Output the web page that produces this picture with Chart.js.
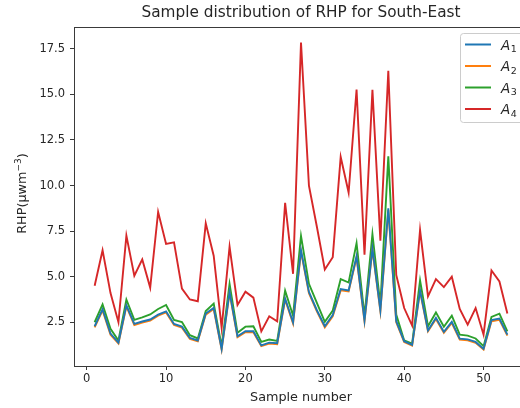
<!DOCTYPE html>
<html>
<head>
<meta charset="utf-8">
<script src="https://cdn.jsdelivr.net/npm/chart.js@4.4.1/dist/chart.umd.min.js"></script>
<style>
html,body{margin:0;padding:0;background:#fff;overflow:hidden;width:520px;height:408px;}
#wrap{position:absolute;left:0;top:0;width:540px;height:408px;}
</style>
</head>
<body>
<div id="wrap"><canvas id="c" width="540" height="408"></canvas></div>
<script>
const samples = [1,2,3,4,5,6,7,8,9,10,11,12,13,14,15,16,17,18,19,20,21,22,23,24,25,26,27,28,29,30,31,32,33,34,35,36,37,38,39,40,41,42,43,44,45,46,47,48,49,50,51,52,53];
const A1 = [2.28,3.21,1.88,1.38,3.43,2.41,2.54,2.65,2.92,3.10,2.41,2.26,1.64,1.50,2.98,3.29,1.04,4.17,1.73,2.01,2.01,1.23,1.38,1.35,3.80,2.49,6.45,4.16,3.16,2.28,2.89,4.32,4.25,6.12,2.61,6.55,3.16,8.75,2.56,1.46,1.26,4.25,2.05,2.74,1.97,2.52,1.60,1.56,1.42,1.04,2.62,2.70,1.82];
const A2 = [2.22,3.15,1.82,1.33,3.37,2.35,2.48,2.59,2.86,3.04,2.35,2.20,1.59,1.46,2.92,3.23,1.00,4.10,1.68,1.95,1.95,1.19,1.33,1.30,3.74,2.43,6.38,4.10,3.10,2.22,2.83,4.25,4.19,6.05,2.55,6.48,3.10,8.66,2.50,1.42,1.22,4.19,2.00,2.68,1.92,2.46,1.55,1.51,1.37,1.00,2.55,2.64,1.77];
const A3 = [2.50,3.48,2.14,1.50,3.74,2.63,2.77,2.93,3.23,3.45,2.63,2.51,1.79,1.61,3.12,3.52,1.19,4.61,1.92,2.26,2.28,1.42,1.55,1.48,4.23,2.86,7.24,4.61,3.56,2.52,3.14,4.87,4.68,6.84,2.85,7.33,3.46,11.60,2.92,1.50,1.33,4.79,2.28,3.04,2.25,2.86,1.82,1.77,1.61,1.19,2.79,2.97,2.00];
const A4 = [4.50,6.45,4.10,2.50,7.25,5.05,5.95,4.40,8.55,6.80,6.88,4.35,3.75,3.65,7.93,6.15,2.20,6.65,3.45,4.18,3.85,2.00,2.83,2.55,9.05,5.16,17.85,10.00,7.74,5.40,6.07,11.57,9.62,15.27,6.20,15.25,6.98,16.30,5.10,3.28,2.32,7.56,3.92,4.87,4.43,5.00,3.23,2.37,3.28,1.82,5.34,4.74,2.98];
const xTicks = [0,10,20,30,40,50];
const yTicks = [2.5,5.0,7.5,10.0,12.5,15.0,17.5];
const seriesNames = ['1','2','3','4'];
const colors = ['#1f77b4','#ff7f0e','#2ca02c','#d62728'];
const titleText = 'Sample distribution of RHP for South-East';
const xTitle = 'Sample number';
const yTitleMain = 'RHP(\u03bcwm';
const yTitleSup = '\u22123';
const yTitleEnd = ')';

const TXT = '#262626';
const SPINE = '#3a3a3a';
const FONT = 'DejaVu Sans';

const mk = (arr, i) => ({
  label: 'A' + seriesNames[i],
  data: arr.map((v, k) => ({x: samples[k], y: v})),
  borderColor: colors[i],
  backgroundColor: colors[i],
  borderWidth: 1.9,
  pointRadius: 0,
  tension: 0,
  fill: false
});

const deco = {
  id: 'deco',
  afterDraw(chart) {
    const ctx = chart.ctx, a = chart.chartArea;
    ctx.save();
    ctx.strokeStyle = SPINE; ctx.lineWidth = 1;
    ctx.beginPath();
    ctx.moveTo(a.left, a.top + 0.5); ctx.lineTo(a.right, a.top + 0.5);
    ctx.moveTo(a.right - 0.5, a.top); ctx.lineTo(a.right - 0.5, a.bottom);
    ctx.stroke();
    // title
    ctx.fillStyle = TXT;
    ctx.font = '15.3px "' + FONT + '"';
    ctx.textAlign = 'center'; ctx.textBaseline = 'middle';
    ctx.fillText(titleText, (a.left + a.right) / 2, 13.5);
    // x title
    ctx.font = '12.8px "' + FONT + '"';
    ctx.fillText(xTitle, (a.left + a.right) / 2, 398);
    // y title with superscript
    ctx.save();
    ctx.translate(26, (a.top + a.bottom) / 2 - 3);
    ctx.rotate(-Math.PI / 2);
    ctx.textBaseline = 'alphabetic'; ctx.textAlign = 'left';
    const fMain = '12.8px "' + FONT + '"', fSup = '9px "' + FONT + '"';
    ctx.font = fMain; const w1 = ctx.measureText(yTitleMain).width; const w3 = ctx.measureText(yTitleEnd).width;
    ctx.font = fSup; const w2 = ctx.measureText(yTitleSup).width;
    let x0 = -(w1 + w2 + w3) / 2;
    ctx.font = fMain; ctx.fillText(yTitleMain, x0, 0);
    ctx.font = fSup; ctx.fillText(yTitleSup, x0 + w1, -5.5);
    ctx.font = fMain; ctx.fillText(yTitleEnd, x0 + w1 + w2, 0);
    ctx.restore();
    // legend
    const lx = 460.5, ly = 33.5, lw = 70, lh = 89;
    ctx.fillStyle = 'rgba(255,255,255,0.8)';
    ctx.strokeStyle = '#cccccc'; ctx.lineWidth = 1;
    ctx.beginPath();
    if (ctx.roundRect) ctx.roundRect(lx, ly, lw, lh, 3); else ctx.rect(lx, ly, lw, lh);
    ctx.fill(); ctx.stroke();
    const rowY = [44.5, 66, 87.5, 109];
    chart.data.datasets.forEach((ds, i) => {
      const y = rowY[i];
      ctx.strokeStyle = ds.borderColor; ctx.lineWidth = 2;
      ctx.beginPath(); ctx.moveTo(465, y); ctx.lineTo(491, y); ctx.stroke();
      ctx.fillStyle = TXT;
      ctx.textAlign = 'left'; ctx.textBaseline = 'alphabetic';
      ctx.font = 'italic 13.5px "' + FONT + '"';
      ctx.fillText('A', 501, y + 5);
      const w = ctx.measureText('A').width;
      ctx.font = '9.5px "' + FONT + '"';
      ctx.fillText(seriesNames[i], 501 + w + 0.5, y + 7.5);
    });
    ctx.restore();
  }
};

new Chart(document.getElementById('c'), {
  type: 'line',
  data: { datasets: [mk(A1,0), mk(A2,1), mk(A3,2), mk(A4,3)] },
  options: {
    responsive: false,
    animation: false,
    devicePixelRatio: 1,
    layout: { padding: { left: 0, top: 27, right: 12, bottom: 0 } },
    plugins: { legend: { display: false }, title: { display: false }, tooltip: { enabled: false } },
    scales: {
      x: {
        type: 'linear', min: -1.6, max: 55.6,
        afterFit(s) { s.height = 42; },
        afterBuildTicks(s) { s.ticks = xTicks.map(v => ({ value: v })); },
        grid: { display: true, drawOnChartArea: false, drawTicks: true, tickLength: 4, tickColor: SPINE, color: SPINE },
        border: { display: true, color: SPINE, width: 1 },
        ticks: { color: TXT, font: { family: FONT, size: 11.5 }, padding: 2, maxRotation: 0, autoSkip: false,
                 callback: v => String(v) }
      },
      y: {
        type: 'linear', min: 0.1, max: 18.7,
        afterFit(s) { s.width = 74; },
        afterBuildTicks(s) { s.ticks = yTicks.map(v => ({ value: v })); },
        grid: { display: true, drawOnChartArea: false, drawTicks: true, tickLength: 4, tickColor: SPINE, color: SPINE },
        border: { display: true, color: SPINE, width: 1 },
        ticks: { color: TXT, font: { family: FONT, size: 11.5 }, padding: 5, autoSkip: false,
                 callback: v => Number(v).toFixed(1) }
      }
    }
  },
  plugins: [deco]
});
</script>
</body>
</html>
